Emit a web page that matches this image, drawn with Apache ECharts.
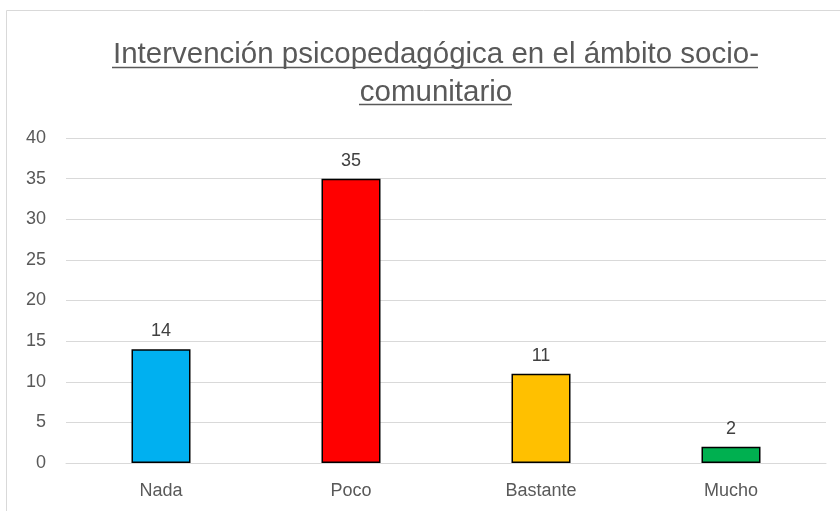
<!DOCTYPE html>
<html>
<head>
<meta charset="utf-8">
<script src="https://cdn.jsdelivr.net/npm/echarts@6/dist/echarts.min.js"></script>
<style>
  html, body { margin: 0; padding: 0; background: #fff; }
  #chart { width: 840px; height: 511px; }
</style>
</head>
<body>
<div id="chart"></div>
<script>
const categories = ["Nada", "Poco", "Bastante", "Mucho"];
const values = [14, 35, 11, 2];
const barColors = ["#00B0F0", "#FF0000", "#FFC000", "#00B050"];
const titleLines = ["Intervención psicopedagógica en el ámbito socio-", "comunitario"];

const font = '"Liberation Sans", Arial, sans-serif';
const myChart = echarts.init(document.getElementById("chart"));

myChart.setOption({
  animation: false,
  title: {
    text: titleLines.join("\n"),
    left: 431,
    textAlign: "center",
    top: 31,
    textStyle: {
      fontFamily: font,
      fontSize: 29.5,
      fontWeight: "normal",
      color: "#595959",
      lineHeight: 38,
    },
  },
  graphic: [
    // chart area border (cut off at right and bottom)
    {
      type: "rect",
      shape: { x: 6.5, y: 10.5, width: 900, height: 600 },
      style: { fill: "none", stroke: "#d9d9d9", lineWidth: 1 },
      silent: true,
    },
    // title underlines
    {
      type: "line",
      shape: { x1: 112, y1: 67.5, x2: 758, y2: 67.5 },
      style: { stroke: "#595959", lineWidth: 1.5 },
    },
    {
      type: "line",
      shape: { x1: 359, y1: 104.5, x2: 512, y2: 104.5 },
      style: { stroke: "#595959", lineWidth: 1.5 },
    },
  ],
  grid: {
    left: 66,
    right: 14,
    top: 138,
    bottom: 48,
  },
  xAxis: {
    type: "category",
    data: categories,
    axisLine: { lineStyle: { color: "#d9d9d9" } },
    axisTick: { show: false },
    axisLabel: {
      color: "#595959",
      fontFamily: font,
      fontSize: 18,
      margin: 19,
    },
  },
  yAxis: {
    type: "value",
    min: 0,
    max: 40,
    interval: 5,
    axisLine: { show: false },
    axisTick: { show: false },
    axisLabel: {
      color: "#595959",
      fontFamily: font,
      fontSize: 18,
      margin: 20,
    },
    splitLine: { lineStyle: { color: "#d9d9d9" } },
  },
  series: [
    {
      type: "bar",
      barWidth: 59,
      data: values.map((v, i) => ({
        value: v,
        itemStyle: { color: barColors[i] },
      })),
      itemStyle: { borderColor: "#000", borderWidth: 1.5 },
      label: {
        show: true,
        position: "top",
        distance: 9,
        color: "#404040",
        fontFamily: font,
        fontSize: 18,
      },
    },
  ],
});
</script>
</body>
</html>
